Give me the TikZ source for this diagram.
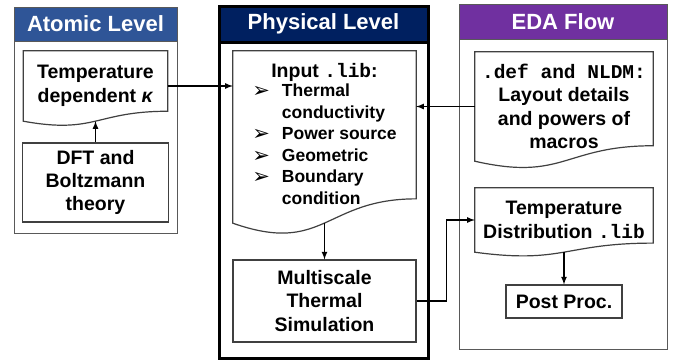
\documentclass[tikz,border=0pt]{standalone}
\usepackage{fontspec}
\setmainfont{Liberation Sans}
\setmonofont{Liberation Mono}
\newfontfamily\symfont{DejaVu Sans}
\usetikzlibrary{calc,positioning}

\definecolor{atomblue}{RGB}{47,85,151}
\definecolor{physnavy}{RGB}{0,32,96}
\definecolor{edapurple}{RGB}{112,48,160}

\newcommand\boxfont{\fontsize{19.5}{23.4}\selectfont\bfseries}
\newcommand\listfont{\fontsize{17.5}{21.6}\selectfont\bfseries}
\newcommand\tick{\raisebox{-1pt}{\symfont\mdseries\fontsize{21}{21}\selectfont ➢}}

% document shape: node spans the top edge down to the left end of the wave
\newcommand\docoutline[1]{%
  \draw[docline] let \p1=(#1.north), \p2=(#1.south), \n1={\y1-\y2} in
    (#1.north west) -- (#1.north east) -- ([yshift=0.1413*\n1]#1.south east)
    .. controls ([yshift=0.1413*\n1]#1.south) and ([yshift=-0.1863*\n1]#1.south) ..
    (#1.south west) -- cycle;}

\begin{document}
\begin{tikzpicture}[x=1pt, y=-1pt, >=latex,
    panel/.style={draw=gray!70!black, line width=1pt, fill=white},
    header/.style={anchor=north, text=white, inner sep=0pt, minimum height=#1,
      font=\fontsize{22}{26}\selectfont\bfseries},
    box/.style={draw=black!75, line width=1.2pt, align=center, font=\boxfont, inner sep=1pt},
    doc/.style={align=center, font=\boxfont, inner sep=1pt},
    docline/.style={draw=black!75, line width=1.2pt},
    link/.style={->, line width=1.6pt}]
    \useasboundingbox (0,0) rectangle (681,360);

    % 1. Three panels with their headers
    \node[panel, minimum width=163pt, minimum height=226pt] (atom) at (95.5,120) {};
    \node[header=34pt, fill=atomblue, draw=gray!70!black, line width=1pt,
      minimum width=163pt] (atomhead) at (atom.north) {Atomic Level};

    \node[panel, draw=black, line width=3pt, minimum width=209pt, minimum height=352pt]
      (phys) at (323.5,182) {};
    \node[header=36pt, fill=physnavy, draw=black, line width=3pt,
      minimum width=209pt] (physhead) at (phys.north) {Physical Level};

    \node[panel, minimum width=208pt, minimum height=345pt] (eda) at (563,176.5) {};
    \node[header=35pt, fill=edapurple, draw=gray!70!black, line width=1pt,
      minimum width=208pt] (edahead) at (eda.north) {EDA Flow};

    % 2. Atomic level
    \node[doc, minimum width=144pt, minimum height=70pt] (tempk) at (95.5,86)
      {Temperature\\dependent \textit{κ}};
    \docoutline{tempk}
    \node[box, minimum width=146pt, minimum height=79pt] (dft) at (95.5,182.5)
      {DFT and\\Boltzmann\\theory};

    % 3. Physical level
    \node[doc, minimum width=183pt, minimum height=172pt] (input) at (324.5,137)
      {Input \texttt{.lib}:\\[-1pt]
       \listfont\begin{tabular}{@{}l@{\hspace{12pt}}l@{}}
         \tick & Thermal\\
               & conductivity\\
         \tick & Power source\\
         \tick & Geometric\\
         \tick & Boundary\\
               & condition
       \end{tabular}};
    \docoutline{input}
    \node[box, minimum width=183pt, minimum height=82pt] (multi) at (324.5,301)
      {Multiscale\\Thermal\\Simulation};

    % 4. EDA flow
    \node[doc, minimum width=178pt, minimum height=109pt] (defdoc) at (564,106.5)
      {\texttt{.def and NLDM:}\\Layout details\\and powers of\\macros};
    \docoutline{defdoc}
    \node[doc, minimum width=178pt, minimum height=64pt] (tdist) at (564,220)
      {Temperature\\Distribution \texttt{.lib}};
    \docoutline{tdist}
    \node[box, minimum width=116pt, minimum height=33pt] (post) at (564,301.5)
      {Post Proc.};

    % 5. Connectors
    \draw[link] (dft) -- (tempk.south);
    \draw[link] (tempk.east) -- (tempk.east -| input.west);
    \draw[link] (defdoc.west) -- (defdoc.west -| input.east);
    \draw[link] (input.south) -- (multi);
    \draw[link] (multi.east) -- ++(30,0) |- (tdist.west);
    \draw[link] (tdist.south) -- (post);
\end{tikzpicture}
\end{document}
